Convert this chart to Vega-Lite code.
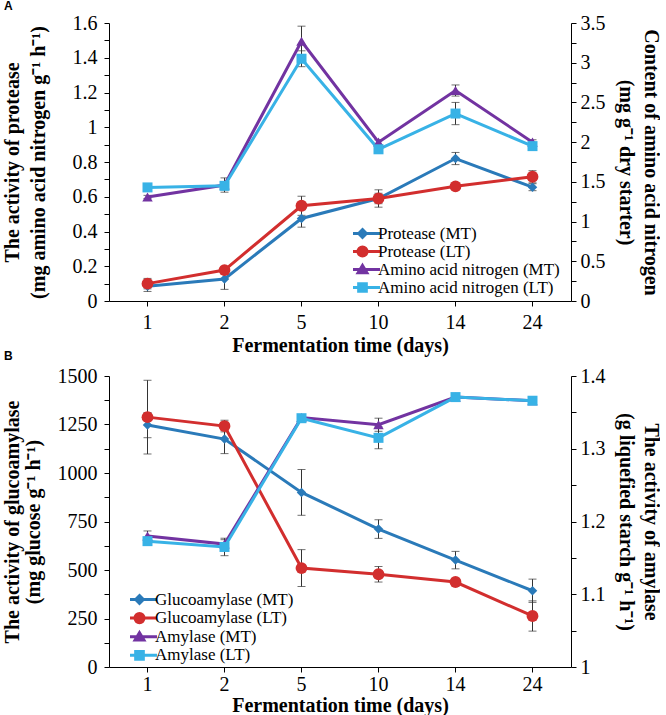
{
  "$schema": "https://vega.github.io/schema/vega-lite/v6.json",
  "padding": {"left": 1, "top": 0, "right": 0, "bottom": 0},
  "background": "white",
  "datasets": {
    "A": [
      {"day": 1, "series": "Protease (MT)", "value": 0.085, "err": 0.03},
      {"day": 2, "series": "Protease (MT)", "value": 0.127, "err": 0.06},
      {"day": 5, "series": "Protease (MT)", "value": 0.475, "err": 0.05},
      {"day": 10, "series": "Protease (MT)", "value": 0.59, "err": 0.03},
      {"day": 14, "series": "Protease (MT)", "value": 0.82, "err": 0.035},
      {"day": 24, "series": "Protease (MT)", "value": 0.655, "err": 0.02},
      {"day": 1, "series": "Protease (LT)", "value": 0.1, "err": 0.03},
      {"day": 2, "series": "Protease (LT)", "value": 0.178, "err": 0.01},
      {"day": 5, "series": "Protease (LT)", "value": 0.548, "err": 0.055},
      {"day": 10, "series": "Protease (LT)", "value": 0.59, "err": 0.05},
      {"day": 14, "series": "Protease (LT)", "value": 0.66, "err": 0.01},
      {"day": 24, "series": "Protease (LT)", "value": 0.715, "err": 0.035},
      {"day": 1, "series": "Amino acid nitrogen (MT)", "value": 1.31, "err": 0.02},
      {"day": 2, "series": "Amino acid nitrogen (MT)", "value": 1.46, "err": 0.09},
      {"day": 5, "series": "Amino acid nitrogen (MT)", "value": 3.27, "err": 0.19},
      {"day": 10, "series": "Amino acid nitrogen (MT)", "value": 2.0, "err": 0.03},
      {"day": 14, "series": "Amino acid nitrogen (MT)", "value": 2.65, "err": 0.07},
      {"day": 24, "series": "Amino acid nitrogen (MT)", "value": 2.0, "err": 0.03},
      {"day": 1, "series": "Amino acid nitrogen (LT)", "value": 1.43, "err": 0.03},
      {"day": 2, "series": "Amino acid nitrogen (LT)", "value": 1.45, "err": 0.05},
      {"day": 5, "series": "Amino acid nitrogen (LT)", "value": 3.05, "err": 0.1},
      {"day": 10, "series": "Amino acid nitrogen (LT)", "value": 1.91, "err": 0.03},
      {"day": 14, "series": "Amino acid nitrogen (LT)", "value": 2.36, "err": 0.14},
      {"day": 24, "series": "Amino acid nitrogen (LT)", "value": 1.95, "err": 0.03}
    ],
    "B": [
      {"day": 1, "series": "Glucoamylase (MT)", "value": 1247, "err": 65},
      {"day": 2, "series": "Glucoamylase (MT)", "value": 1175, "err": 75},
      {"day": 5, "series": "Glucoamylase (MT)", "value": 900, "err": 118},
      {"day": 10, "series": "Glucoamylase (MT)", "value": 711, "err": 48},
      {"day": 14, "series": "Glucoamylase (MT)", "value": 551, "err": 45},
      {"day": 24, "series": "Glucoamylase (MT)", "value": 393, "err": 60},
      {"day": 1, "series": "Glucoamylase (LT)", "value": 1288, "err": 190},
      {"day": 2, "series": "Glucoamylase (LT)", "value": 1242, "err": 30},
      {"day": 5, "series": "Glucoamylase (LT)", "value": 510, "err": 95},
      {"day": 10, "series": "Glucoamylase (LT)", "value": 478, "err": 40},
      {"day": 14, "series": "Glucoamylase (LT)", "value": 438, "err": 15},
      {"day": 24, "series": "Glucoamylase (LT)", "value": 263, "err": 78},
      {"day": 1, "series": "Amylase (MT)", "value": 1.18, "err": 0.007},
      {"day": 2, "series": "Amylase (MT)", "value": 1.169, "err": 0.006},
      {"day": 5, "series": "Amylase (MT)", "value": 1.343, "err": 0.004},
      {"day": 10, "series": "Amylase (MT)", "value": 1.333, "err": 0.009},
      {"day": 14, "series": "Amylase (MT)", "value": 1.371, "err": 0.003},
      {"day": 24, "series": "Amylase (MT)", "value": 1.366, "err": 0.004},
      {"day": 1, "series": "Amylase (LT)", "value": 1.173, "err": 0.005},
      {"day": 2, "series": "Amylase (LT)", "value": 1.165, "err": 0.012},
      {"day": 5, "series": "Amylase (LT)", "value": 1.342, "err": 0.004},
      {"day": 10, "series": "Amylase (LT)", "value": 1.315, "err": 0.015},
      {"day": 14, "series": "Amylase (LT)", "value": 1.371, "err": 0.004},
      {"day": 24, "series": "Amylase (LT)", "value": 1.366, "err": 0.005}
    ]
  },
  "vconcat": [
    {
      "width": 462,
      "height": 278,
      "data": {"name": "A"},
      "title": {"text": "A", "anchor": "start", "frame": "group", "dx": -105, "offset": 0, "font": "Liberation Sans", "fontSize": 12, "fontWeight": "bold", "color": "black"},
      "encoding": {
        "x": {"field": "day", "type": "ordinal", "axis": {"title": "Fermentation time (days)", "labelAngle": 0, "labelPadding": 6, "titlePadding": 3}}
      },
      "layer": [
        {
          "transform": [{"filter": "false"}],
          "mark": {"type": "point", "filled": true, "opacity": 1, "strokeWidth": 3},
          "encoding": {
            "color": {"field": "series", "type": "nominal",
              "scale": {"domain": ["Protease (MT)", "Protease (LT)", "Amino acid nitrogen (MT)", "Amino acid nitrogen (LT)"], "range": ["#2A7AB9", "#D22E2E", "#7233A1", "#38B2E6"]},
              "legend": {"orient": "none", "legendX": 244, "legendY": 202, "title": null, "padding": 0, "labelFont": "Liberation Serif", "labelFontSize": 17, "labelColor": "black", "labelLimit": 300, "symbolSize": 256, "symbolStrokeWidth": 3, "labelOffset": 6, "rowPadding": 0, "clipHeight": 17}},
            "stroke": {"field": "series", "type": "nominal",
              "scale": {"domain": ["Protease (MT)", "Protease (LT)", "Amino acid nitrogen (MT)", "Amino acid nitrogen (LT)"], "range": ["#2A7AB9", "#D22E2E", "#7233A1", "#38B2E6"]},
              "legend": {"orient": "none", "legendX": 244, "legendY": 202, "title": null, "padding": 0, "labelFont": "Liberation Serif", "labelFontSize": 17, "labelColor": "black", "labelLimit": 300, "symbolSize": 256, "symbolStrokeWidth": 3, "labelOffset": 6, "rowPadding": 0, "clipHeight": 17}},
            "shape": {"field": "series", "type": "nominal",
              "scale": {"domain": ["Protease (MT)", "Protease (LT)", "Amino acid nitrogen (MT)", "Amino acid nitrogen (LT)"],
                "range": ["M-2.19,0H2.19M0,-0.48L0.48,0L0,0.48L-0.48,0Z", "M-2.19,0H2.19M0.57,0A0.57,0.57,0,1,1,-0.57,0A0.57,0.57,0,1,1,0.57,0Z", "M-2.19,0H2.19M0,-0.5L0.55,0.42L-0.55,0.42Z", "M-2.19,0H2.19M-0.48,-0.48H0.48V0.48H-0.48Z"]},
              "legend": {"orient": "none", "legendX": 244, "legendY": 202, "title": null, "padding": 0, "labelFont": "Liberation Serif", "labelFontSize": 17, "labelColor": "black", "labelLimit": 300, "symbolSize": 256, "symbolStrokeWidth": 3, "labelOffset": 6, "rowPadding": 0, "clipHeight": 17}}
          }
        },
        {
          "transform": [{"filter": {"field": "series", "oneOf": ["Protease (MT)", "Protease (LT)"]}}],
          "encoding": {
            "y": {"field": "value", "type": "quantitative", "scale": {"domain": [0, 1.6], "nice": false, "zero": false},
              "axis": {"orient": "left", "title": ["The activity of protease", "(mg amino acid nitrogen g⁻¹ h⁻¹)"], "titleLineHeight": 26, "titlePadding": 24, "labelPadding": 7,
                "values": [0, 0.1, 0.2, 0.3, 0.4, 0.5, 0.6, 0.7, 0.8, 0.9, 1, 1.1, 1.2, 1.3, 1.4, 1.5, 1.6], "format": "~g",
                "labelExpr": "round(datum.value*10)%2==0 ? datum.label : ''"}}
          },
          "layer": [
            {"mark": {"type": "errorbar", "color": "#333333", "ticks": {"size": 8, "thickness": 1}, "rule": {"strokeWidth": 1}}, "encoding": {"yError": {"field": "err"}}},
            {"mark": {"type": "line", "strokeWidth": 3}, "encoding": {"color": {"field": "series", "type": "nominal", "scale": {"domain": ["Protease (MT)", "Protease (LT)", "Amino acid nitrogen (MT)", "Amino acid nitrogen (LT)"], "range": ["#2A7AB9", "#D22E2E", "#7233A1", "#38B2E6"]}, "legend": null}}},
            {"transform": [{"filter": {"field": "series", "equal": "Protease (MT)"}}], "mark": {"type": "point", "shape": "diamond", "filled": true, "opacity": 1, "size": 90, "color": "#2A7AB9"}},
            {"transform": [{"filter": {"field": "series", "equal": "Protease (LT)"}}], "mark": {"type": "point", "shape": "circle", "filled": true, "opacity": 1, "size": 140, "color": "#D22E2E"}}
          ]
        },
        {
          "transform": [{"filter": {"field": "series", "oneOf": ["Amino acid nitrogen (MT)", "Amino acid nitrogen (LT)"]}}],
          "encoding": {
            "y": {"field": "value", "type": "quantitative", "scale": {"domain": [0, 3.5], "nice": false, "zero": false},
              "axis": {"orient": "right", "title": ["Content of amino acid nitrogen", "(mg g⁻¹ dry starter)"], "titleLineHeight": 25, "titlePadding": 10,
                "values": [0, 0.25, 0.5, 0.75, 1, 1.25, 1.5, 1.75, 2, 2.25, 2.5, 2.75, 3, 3.25, 3.5], "format": "~g",
                "labelExpr": "round(datum.value*4)%2==0 ? datum.label : ''"}}
          },
          "layer": [
            {"mark": {"type": "errorbar", "color": "#333333", "ticks": {"size": 8, "thickness": 1}, "rule": {"strokeWidth": 1}}, "encoding": {"yError": {"field": "err"}}},
            {"mark": {"type": "line", "strokeWidth": 3}, "encoding": {"color": {"field": "series", "type": "nominal", "scale": {"domain": ["Protease (MT)", "Protease (LT)", "Amino acid nitrogen (MT)", "Amino acid nitrogen (LT)"], "range": ["#2A7AB9", "#D22E2E", "#7233A1", "#38B2E6"]}, "legend": null}}},
            {"transform": [{"filter": {"field": "series", "equal": "Amino acid nitrogen (MT)"}}], "mark": {"type": "point", "shape": "triangle-up", "filled": true, "opacity": 1, "size": 110, "color": "#7233A1"}},
            {"transform": [{"filter": {"field": "series", "equal": "Amino acid nitrogen (LT)"}}], "mark": {"type": "point", "shape": "square", "filled": true, "opacity": 1, "size": 100, "color": "#38B2E6"}}
          ]
        }
      ],
      "resolve": {"scale": {"y": "independent"}}
    },
    {
      "width": 462,
      "height": 291,
      "data": {"name": "B"},
      "title": {"text": "B", "anchor": "start", "frame": "group", "dx": -105, "dy": -3, "offset": 0, "font": "Liberation Sans", "fontSize": 12, "fontWeight": "bold", "color": "black"},
      "encoding": {
        "x": {"field": "day", "type": "ordinal", "axis": {"title": "Fermentation time (days)", "labelAngle": 0, "labelPadding": 2, "titlePadding": 1}}
      },
      "layer": [
        {
          "transform": [{"filter": "false"}],
          "mark": {"type": "point", "filled": true, "opacity": 1, "strokeWidth": 3},
          "encoding": {
            "color": {"field": "series", "type": "nominal",
              "scale": {"domain": ["Glucoamylase (MT)", "Glucoamylase (LT)", "Amylase (MT)", "Amylase (LT)"], "range": ["#2A7AB9", "#D22E2E", "#7233A1", "#38B2E6"]},
              "legend": {"orient": "none", "legendX": 21, "legendY": 215, "title": null, "padding": 0, "labelFont": "Liberation Serif", "labelFontSize": 17, "labelColor": "black", "labelLimit": 300, "symbolSize": 256, "symbolStrokeWidth": 3, "labelOffset": 6, "rowPadding": 0.6, "clipHeight": 17}},
            "stroke": {"field": "series", "type": "nominal",
              "scale": {"domain": ["Glucoamylase (MT)", "Glucoamylase (LT)", "Amylase (MT)", "Amylase (LT)"], "range": ["#2A7AB9", "#D22E2E", "#7233A1", "#38B2E6"]},
              "legend": {"orient": "none", "legendX": 21, "legendY": 215, "title": null, "padding": 0, "labelFont": "Liberation Serif", "labelFontSize": 17, "labelColor": "black", "labelLimit": 300, "symbolSize": 256, "symbolStrokeWidth": 3, "labelOffset": 6, "rowPadding": 0.6, "clipHeight": 17}},
            "shape": {"field": "series", "type": "nominal",
              "scale": {"domain": ["Glucoamylase (MT)", "Glucoamylase (LT)", "Amylase (MT)", "Amylase (LT)"],
                "range": ["M-2.19,0H2.19M0,-0.48L0.48,0L0,0.48L-0.48,0Z", "M-2.19,0H2.19M0.57,0A0.57,0.57,0,1,1,-0.57,0A0.57,0.57,0,1,1,0.57,0Z", "M-2.19,0H2.19M0,-0.5L0.55,0.42L-0.55,0.42Z", "M-2.19,0H2.19M-0.48,-0.48H0.48V0.48H-0.48Z"]},
              "legend": {"orient": "none", "legendX": 21, "legendY": 215, "title": null, "padding": 0, "labelFont": "Liberation Serif", "labelFontSize": 17, "labelColor": "black", "labelLimit": 300, "symbolSize": 256, "symbolStrokeWidth": 3, "labelOffset": 6, "rowPadding": 0.6, "clipHeight": 17}}
          }
        },
        {
          "transform": [{"filter": {"field": "series", "oneOf": ["Glucoamylase (MT)", "Glucoamylase (LT)"]}}],
          "encoding": {
            "y": {"field": "value", "type": "quantitative", "scale": {"domain": [0, 1500], "nice": false, "zero": false},
              "axis": {"orient": "left", "title": ["The activity of glucoamylase", "(mg glucose g⁻¹ h⁻¹)"], "titleLineHeight": 21, "titlePadding": 14, "labelPadding": 7,
                "values": [0, 125, 250, 375, 500, 625, 750, 875, 1000, 1125, 1250, 1375, 1500], "format": "d",
                "labelExpr": "datum.value%250==0 ? datum.label : ''"}}
          },
          "layer": [
            {"mark": {"type": "errorbar", "color": "#333333", "ticks": {"size": 8, "thickness": 1}, "rule": {"strokeWidth": 1}}, "encoding": {"yError": {"field": "err"}}},
            {"mark": {"type": "line", "strokeWidth": 3}, "encoding": {"color": {"field": "series", "type": "nominal", "scale": {"domain": ["Glucoamylase (MT)", "Glucoamylase (LT)", "Amylase (MT)", "Amylase (LT)"], "range": ["#2A7AB9", "#D22E2E", "#7233A1", "#38B2E6"]}, "legend": null}}},
            {"transform": [{"filter": {"field": "series", "equal": "Glucoamylase (MT)"}}], "mark": {"type": "point", "shape": "diamond", "filled": true, "opacity": 1, "size": 90, "color": "#2A7AB9"}},
            {"transform": [{"filter": {"field": "series", "equal": "Glucoamylase (LT)"}}], "mark": {"type": "point", "shape": "circle", "filled": true, "opacity": 1, "size": 140, "color": "#D22E2E"}}
          ]
        },
        {
          "transform": [{"filter": {"field": "series", "oneOf": ["Amylase (MT)", "Amylase (LT)"]}}],
          "encoding": {
            "y": {"field": "value", "type": "quantitative", "scale": {"domain": [1, 1.4], "nice": false, "zero": false},
              "axis": {"orient": "right", "title": ["The activity of amylase", "(g liquefied starch g⁻¹ h⁻¹)"], "titleLineHeight": 25, "titlePadding": 10,
                "values": [1, 1.05, 1.1, 1.15, 1.2, 1.25, 1.3, 1.35, 1.4], "format": "~g",
                "labelExpr": "round(datum.value*20)%2==0 ? datum.label : ''"}}
          },
          "layer": [
            {"mark": {"type": "errorbar", "color": "#333333", "ticks": {"size": 8, "thickness": 1}, "rule": {"strokeWidth": 1}}, "encoding": {"yError": {"field": "err"}}},
            {"mark": {"type": "line", "strokeWidth": 3}, "encoding": {"color": {"field": "series", "type": "nominal", "scale": {"domain": ["Glucoamylase (MT)", "Glucoamylase (LT)", "Amylase (MT)", "Amylase (LT)"], "range": ["#2A7AB9", "#D22E2E", "#7233A1", "#38B2E6"]}, "legend": null}}},
            {"transform": [{"filter": {"field": "series", "equal": "Amylase (MT)"}}], "mark": {"type": "point", "shape": "triangle-up", "filled": true, "opacity": 1, "size": 110, "color": "#7233A1"}},
            {"transform": [{"filter": {"field": "series", "equal": "Amylase (LT)"}}], "mark": {"type": "point", "shape": "square", "filled": true, "opacity": 1, "size": 100, "color": "#38B2E6"}}
          ]
        }
      ],
      "resolve": {"scale": {"y": "independent"}}
    }
  ],
  "spacing": 75,
  "bounds": "flush",
  "resolve": {"scale": {"color": "independent", "stroke": "independent", "shape": "independent", "x": "independent"}},
  "config": {
    "view": {"stroke": null},
    "legend": {"labelFont": "Liberation Serif", "labelFontSize": 17, "labelColor": "black", "labelLimit": 300},
    "axis": {"grid": false, "domainColor": "black", "tickColor": "black", "labelColor": "black", "titleColor": "black",
      "labelFont": "Liberation Serif", "titleFont": "Liberation Serif", "labelFontSize": 20, "titleFontSize": 20, "titleFontWeight": "bold",
      "tickSize": 5, "domainWidth": 1, "tickWidth": 1, "labelPadding": 4}
  }
}
